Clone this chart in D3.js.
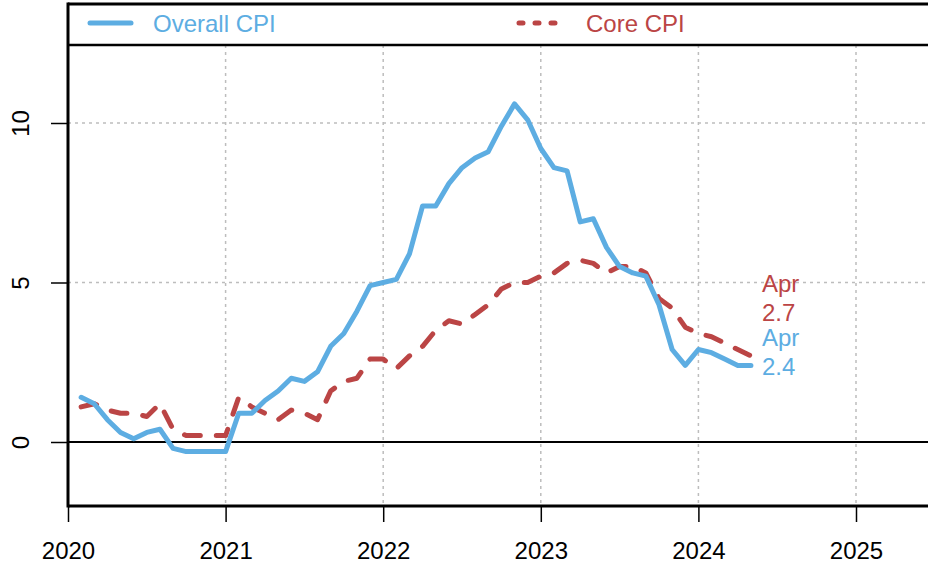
<!DOCTYPE html>
<html>
<head>
<meta charset="utf-8">
<script src="https://cdn.jsdelivr.net/npm/d3@7"></script>
<style>
  body { margin: 0; background: #fff; }
  svg { display: block; font-family: "Liberation Sans", Arial, sans-serif; }
</style>
</head>
<body>
<div id="chart"></div>
<script>
// Euro area inflation, % change on a year ago, monthly Jan 2020 - Apr 2024
const years = [2020, 2021, 2022, 2023, 2024, 2025];
const yTicks = [0, 5, 10];

const overallCPI = [
  1.4, 1.2, 0.7, 0.3, 0.1, 0.3, 0.4, -0.2, -0.3, -0.3, -0.3, -0.3,
  0.9, 0.9, 1.3, 1.6, 2.0, 1.9, 2.2, 3.0, 3.4, 4.1, 4.9, 5.0,
  5.1, 5.9, 7.4, 7.4, 8.1, 8.6, 8.9, 9.1, 9.9, 10.6, 10.1, 9.2,
  8.6, 8.5, 6.9, 7.0, 6.1, 5.5, 5.3, 5.2, 4.3, 2.9, 2.4, 2.9,
  2.8, 2.6, 2.4, 2.4
];
const coreCPI = [
  1.1, 1.2, 1.0, 0.9, 0.9, 0.8, 1.2, 0.4, 0.2, 0.2, 0.2, 0.2,
  1.4, 1.1, 0.9, 0.7, 1.0, 0.9, 0.7, 1.6, 1.9, 2.0, 2.6, 2.6,
  2.3, 2.7, 3.0, 3.5, 3.8, 3.7, 4.0, 4.3, 4.8, 5.0, 5.0, 5.2,
  5.3, 5.6, 5.7, 5.6, 5.3, 5.5, 5.5, 5.3, 4.5, 4.2, 3.6, 3.4,
  3.3, 3.1, 2.9, 2.7
];
const seriesNames = ["Overall CPI", "Core CPI"];
const lastLabel = "Apr";

const blue = "#5DADE2", red = "#BB4545";

// months, plotted at the end of each month (R style decimal year)
const months = d3.timeMonth.range(new Date(2020, 0, 1), new Date(2024, 4, 1));
const t = months.map(d => d.getFullYear() + (d.getMonth() + 1) / 12);

const W = 928, H = 571;
const plotLeft = 68, plotRight = 940, plotTop = 4, plotBottom = 506, legendBottom = 45;

const x = d3.scaleLinear().domain([2020, 2025]).range([68, 856]);
const y = d3.scaleLinear().domain([0, 10]).range([442, 123]);

const svg = d3.select("#chart").append("svg")
  .attr("width", W).attr("height", H);

// grid
svg.append("g").selectAll("line")
  .data(years.filter(d => d > 2020))
  .join("line")
  .attr("x1", d => x(d)).attr("x2", d => x(d))
  .attr("y1", legendBottom).attr("y2", plotBottom)
  .attr("stroke", "#bdbdbd").attr("stroke-width", 1.5)
  .attr("stroke-dasharray", "3,4");

svg.append("g").selectAll("line")
  .data(yTicks.filter(d => d !== 0))
  .join("line")
  .attr("x1", plotLeft).attr("x2", plotRight)
  .attr("y1", d => y(d)).attr("y2", d => y(d))
  .attr("stroke", "#bdbdbd").attr("stroke-width", 1.5)
  .attr("stroke-dasharray", "3,4");

// zero line
svg.append("line")
  .attr("x1", plotLeft).attr("x2", plotRight)
  .attr("y1", y(0)).attr("y2", y(0))
  .attr("stroke", "#000").attr("stroke-width", 2);

// axes
const xAxis = svg.append("g")
  .attr("transform", `translate(0,${plotBottom})`)
  .call(d3.axisBottom(x).tickValues(years).tickFormat(d3.format("d")).tickSize(16).tickPadding(20));
xAxis.select(".domain").remove();
xAxis.selectAll("line").attr("stroke-width", 1.5);
xAxis.selectAll("text").attr("font-size", 24).attr("fill", "#000")
  .attr("font-family", "Liberation Sans, Arial, sans-serif");

const yAxis = svg.append("g")
  .attr("transform", `translate(${plotLeft},0)`)
  .call(d3.axisLeft(y).tickValues(yTicks).tickSize(17));
yAxis.select(".domain").remove();
yAxis.selectAll("line").attr("stroke-width", 1.5);
yAxis.selectAll("text")
  .attr("font-size", 24).attr("fill", "#000")
  .attr("font-family", "Liberation Sans, Arial, sans-serif")
  .attr("text-anchor", "middle")
  .attr("transform", "rotate(-90)")
  .attr("x", 0).attr("y", -39).attr("dy", 0);

// lines
const line = d3.line().x((d, i) => x(t[i])).y(d => y(d));

svg.append("path")
  .datum(coreCPI)
  .attr("d", line)
  .attr("fill", "none")
  .attr("stroke", red)
  .attr("stroke-width", 5)
  .attr("stroke-linecap", "round")
  .attr("stroke-linejoin", "round")
  .attr("stroke-dasharray", "16,16");

svg.append("path")
  .datum(overallCPI)
  .attr("d", line)
  .attr("fill", "none")
  .attr("stroke", blue)
  .attr("stroke-width", 5)
  .attr("stroke-linecap", "round")
  .attr("stroke-linejoin", "round");

// end labels (nudged apart so they don't collide)
const last = t.length - 1;
const endLabels = [
  {v: coreCPI[last], color: red, dy: -64},
  {v: overallCPI[last], color: blue, dy: -19}
];
endLabels.forEach(l => {
  const txt = svg.append("text")
    .attr("x", x(t[last]) + 11)
    .attr("y", y(l.v) + l.dy)
    .attr("font-size", 24)
    .attr("fill", l.color);
  txt.append("tspan").text(lastLabel);
  txt.append("tspan").attr("x", x(t[last]) + 11).attr("dy", 29).text(l.v.toFixed(1));
});

// frame
svg.append("line").attr("x1", plotLeft).attr("x2", plotLeft).attr("y1", plotTop - 1.5).attr("y2", plotBottom + 1.5)
  .attr("stroke", "#000").attr("stroke-width", 3);
svg.append("line").attr("x1", plotLeft).attr("x2", plotRight).attr("y1", plotBottom).attr("y2", plotBottom)
  .attr("stroke", "#000").attr("stroke-width", 3);
svg.append("line").attr("x1", plotLeft).attr("x2", plotRight).attr("y1", plotTop).attr("y2", plotTop)
  .attr("stroke", "#000").attr("stroke-width", 3);
svg.append("line").attr("x1", plotLeft).attr("x2", plotRight).attr("y1", legendBottom).attr("y2", legendBottom)
  .attr("stroke", "#000").attr("stroke-width", 2.5);

// legend
const legendY = 23;
svg.append("line")
  .attr("x1", 90).attr("x2", 131).attr("y1", legendY).attr("y2", legendY)
  .attr("stroke", blue).attr("stroke-width", 5).attr("stroke-linecap", "round");
svg.append("text")
  .attr("x", 153).attr("y", 31.5)
  .attr("font-size", 24).attr("fill", blue)
  .text(seriesNames[0]);

svg.append("line")
  .attr("x1", 519).attr("x2", 562).attr("y1", legendY).attr("y2", legendY)
  .attr("stroke", red).attr("stroke-width", 5).attr("stroke-linecap", "round")
  .attr("stroke-dasharray", "4,12");
svg.append("text")
  .attr("x", 586).attr("y", 31.5)
  .attr("font-size", 24).attr("fill", red)
  .text(seriesNames[1]);
</script>
</body>
</html>
